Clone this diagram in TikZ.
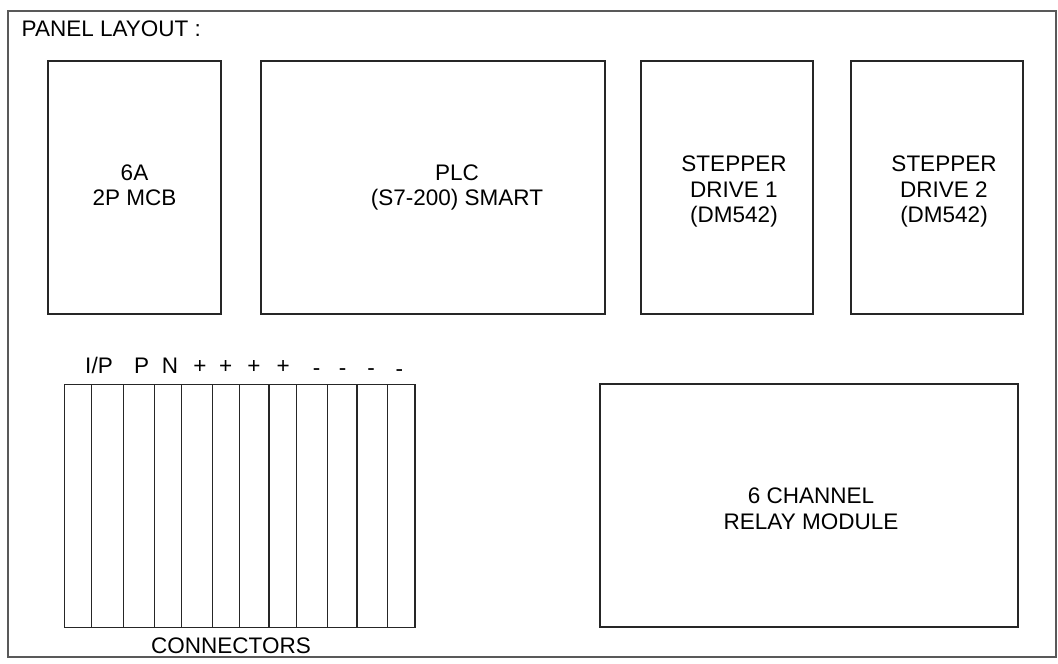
\documentclass[tikz,border=0pt]{standalone}
\usepackage{fontspec}
\setmainfont{Liberation Sans}
\begin{document}
\begin{tikzpicture}[x=1pt,y=-1pt,
  every node/.style={font=\fontsize{22.5}{25.5}\selectfont, text=black},
  frame/.style={draw=gray!70!black, line width=1.5pt},
  box/.style={draw=gray!30!black, line width=1.4pt, inner sep=0pt, rectangle},
  boxtext/.style={align=center, inner sep=0pt},
  cell/.style={draw=gray!30!black, line width=1.2pt, inner sep=0pt, rectangle, minimum height=243pt},
  plabel/.style={anchor=base, inner sep=0pt}
]
\useasboundingbox (0,0) rectangle (1058,664);
\fill[white] (0,0) rectangle (1058,664);
% outer frame
\node[frame, inner sep=0pt, minimum width=1048pt, minimum height=646pt] (panel) at (532,334) {};
\node[anchor=base west, inner sep=0pt] (title) at (21.5,36.7) {PANEL LAYOUT :};
% main boxes
\node[box, minimum width=173pt, minimum height=253pt] (mcb) at (134.5,187.5) {};
\node[box, minimum width=344pt, minimum height=253pt] (plc) at (433,187.5) {};
\node[box, minimum width=172pt, minimum height=253pt] (sd1) at (727,187.5) {};
\node[box, minimum width=172pt, minimum height=253pt] (sd2) at (937,187.5) {};
\node[box, minimum width=418pt, minimum height=243pt] (relay) at (809,505.5) {};
% texts
\node[boxtext] (mcbt) at (134.5,185.5) {6A\\2P MCB};
\node[boxtext] (plct) at (457,187.5) {PLC\\(S7-200) SMART};
\node[boxtext] (sd1t) at (734,191.5) {STEPPER\\DRIVE 1\\(DM542)};
\node[boxtext] (sd2t) at (944,191.5) {STEPPER\\DRIVE 2\\(DM542)};
\node[boxtext] (relayt) at (811,508.5) {6 CHANNEL\\RELAY MODULE};
% connector strip
\foreach \i/\l/\r in {1/64.7/91.7, 2/91.7/123.7, 3/123.7/154.3, 4/154.3/181.7, 5/181.7/212.3, 6/212.3/239.3, 7/239.3/269, 8/269/296.7, 9/296.7/327.3, 10/327.3/357, 11/357/387.7, 12/387.7/415}{
  \pgfmathsetmacro{\w}{\r-\l}
  \pgfmathsetmacro{\c}{(\r+\l)/2}
  \node[cell, minimum width=\w pt] (c\i) at (\c,505.8) {};
}
% connector labels
\node[plabel] (lip) at (99,373.3) {I/P};
\node[plabel] (lp) at (141.7,373.3) {P};
\node[plabel] (ln) at (170,373.3) {N};
\node[plabel] (lp1) at (200,373.3) {+};
\node[plabel] (lp2) at (225.7,373.3) {+};
\node[plabel] (lp3) at (254,373.3) {+};
\node[plabel] (lp4) at (283.3,373.3) {+};
\node[plabel] (lm1) at (316.7,375.5) {-};
\node[plabel] (lm2) at (342.7,375.5) {-};
\node[plabel] (lm3) at (371,375.5) {-};
\node[plabel] (lm4) at (399.3,376.5) {-};
\node[plabel] (conn) at (231,653) {CONNECTORS};
\end{tikzpicture}
\end{document}
